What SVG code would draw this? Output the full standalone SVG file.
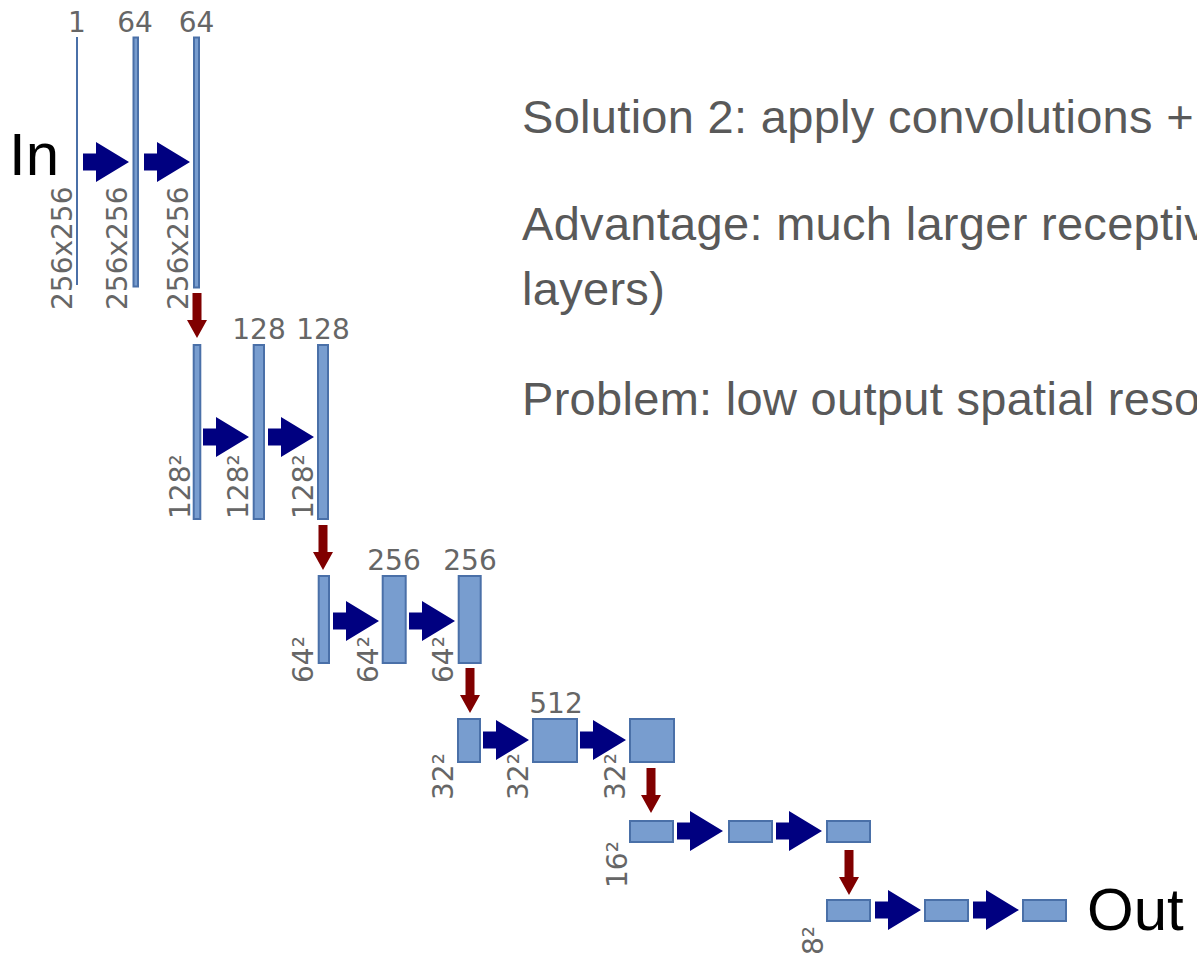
<svg xmlns="http://www.w3.org/2000/svg" xmlns:xlink="http://www.w3.org/1999/xlink" width="1197" height="953" viewBox="0 0 1197 953">
<style>
.bar{fill:#789dcf;stroke:#4a70a8;stroke-width:2}
.lbl{font-family:"DejaVu Sans",sans-serif;font-size:28px;fill:#666666}
.top{text-anchor:middle}
.io{font-family:"Liberation Sans",Arial,sans-serif;font-size:60px;fill:#000000}
.body{font-family:"Liberation Sans",Arial,sans-serif;font-size:47px;letter-spacing:0.3px;fill:#595959}
.conv{fill:#000080}
.pool{fill:#800000}
</style>
<defs>
<path id="ar" d="M0,-8.5 H13 V-20 L46,0 L13,20 V8.5 H0 Z"/>
<path id="ad" d="M-4.5,0 H4.5 V27 H10 L0,45 L-10,27 H-4.5 Z"/>
</defs>
<rect width="1197" height="953" fill="#ffffff"/>

<g id="text-block">
<text class="body" x="522" y="133">Solution 2: apply convolutions +</text>
<text class="body" x="522" y="240">Advantage: much larger receptiv</text>
<text class="body" x="522" y="305">layers)</text>
<text class="body" x="522" y="415">Problem: low output spatial reso</text>
</g>

<g id="in-label"><text class="io" x="9" y="175">In</text></g>
<g id="out-label"><text class="io" x="1087" y="930">Out</text></g>

<g id="row1">
<g id="n1a"><rect x="76" y="37" width="2" height="248" fill="#4a70a8"/><text class="lbl top" x="77" y="31.5">1</text><text class="lbl" transform="translate(72,310) rotate(-90)">256x256</text></g>
<g id="n1b"><rect class="bar" x="133.5" y="37.5" width="4.5" height="249"/><text class="lbl top" x="135" y="31.5">64</text><text class="lbl" transform="translate(127,310) rotate(-90)">256x256</text></g>
<g id="n1c"><rect class="bar" x="194" y="37.5" width="5" height="250"/><text class="lbl top" x="196.5" y="31.5">64</text><text class="lbl" transform="translate(188,310) rotate(-90)">256x256</text></g>
</g>

<g id="row2">
<g id="n2a"><rect class="bar" x="193.7" y="345" width="6.6" height="174"/><text class="lbl" transform="translate(190,519) rotate(-90)">128²</text></g>
<g id="n2b"><rect class="bar" x="253.7" y="345" width="10.3" height="174"/><text class="lbl top" x="259" y="339">128</text><text class="lbl" transform="translate(248,519) rotate(-90)">128²</text></g>
<g id="n2c"><rect class="bar" x="318" y="345" width="10" height="174"/><text class="lbl top" x="323" y="339">128</text><text class="lbl" transform="translate(313,519) rotate(-90)">128²</text></g>
</g>

<g id="row3">
<g id="n3a"><rect class="bar" x="318.7" y="576" width="10.3" height="87"/><text class="lbl" transform="translate(313,683) rotate(-90)">64²</text></g>
<g id="n3b"><rect class="bar" x="382.7" y="576" width="23" height="87"/><text class="lbl top" x="394" y="570">256</text><text class="lbl" transform="translate(378,683) rotate(-90)">64²</text></g>
<g id="n3c"><rect class="bar" x="458.7" y="576" width="22" height="87"/><text class="lbl top" x="470" y="570">256</text><text class="lbl" transform="translate(453,683) rotate(-90)">64²</text></g>
</g>

<g id="row4">
<g id="n4a"><rect class="bar" x="458" y="719" width="22" height="43"/><text class="lbl" transform="translate(453,800) rotate(-90)">32²</text></g>
<g id="n4b"><rect class="bar" x="533" y="719" width="44" height="43"/><text class="lbl top" x="556" y="713">512</text><text class="lbl" transform="translate(528,800) rotate(-90)">32²</text></g>
<g id="n4c"><rect class="bar" x="630" y="719" width="44" height="43"/><text class="lbl" transform="translate(625,800) rotate(-90)">32²</text></g>
</g>

<g id="row5">
<g id="n5a"><rect class="bar" x="630" y="821" width="43" height="21"/><text class="lbl" transform="translate(627,888) rotate(-90)">16²</text></g>
<g id="n5b"><rect class="bar" x="729" y="821" width="43" height="21"/></g>
<g id="n5c"><rect class="bar" x="827" y="821" width="43" height="21"/></g>
</g>

<g id="row6">
<g id="n6a"><rect class="bar" x="827" y="900" width="43" height="21"/><text class="lbl" transform="translate(823,955) rotate(-90)">8²</text></g>
<g id="n6b"><rect class="bar" x="925" y="900" width="43" height="21"/></g>
<g id="n6c"><rect class="bar" x="1023" y="900" width="43" height="21"/></g>
</g>

<g id="connectors">
<use xlink:href="#ar" class="conv" x="83" y="162"/>
<use xlink:href="#ar" class="conv" x="144" y="162"/>
<use xlink:href="#ar" class="conv" x="203" y="437"/>
<use xlink:href="#ar" class="conv" x="268" y="437"/>
<use xlink:href="#ar" class="conv" x="333" y="621"/>
<use xlink:href="#ar" class="conv" x="409" y="621"/>
<use xlink:href="#ar" class="conv" x="483" y="740"/>
<use xlink:href="#ar" class="conv" x="580" y="740"/>
<use xlink:href="#ar" class="conv" x="677" y="831"/>
<use xlink:href="#ar" class="conv" x="776" y="831"/>
<use xlink:href="#ar" class="conv" x="875" y="910"/>
<use xlink:href="#ar" class="conv" x="973" y="910"/>
<use xlink:href="#ad" class="pool" x="197" y="293"/>
<use xlink:href="#ad" class="pool" x="323" y="525"/>
<use xlink:href="#ad" class="pool" x="470" y="668"/>
<use xlink:href="#ad" class="pool" x="651" y="768"/>
<use xlink:href="#ad" class="pool" x="849" y="850"/>
</g>
</svg>
